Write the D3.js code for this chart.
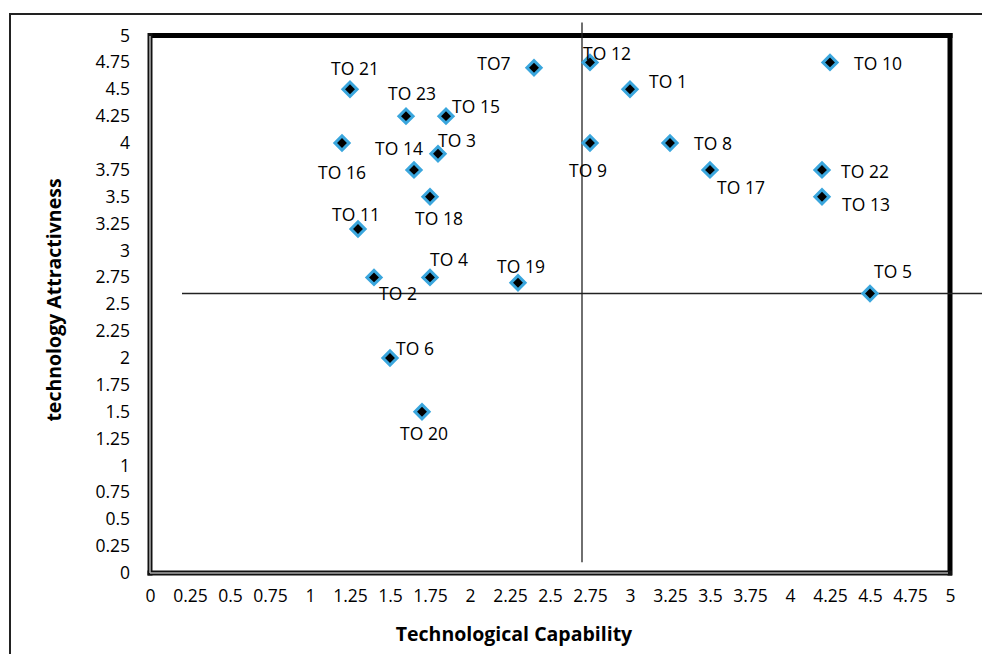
<!DOCTYPE html>
<html><head><meta charset="utf-8">
<script src="https://cdn.jsdelivr.net/npm/d3@7"></script>
<style>body{margin:0;background:#fff}svg{display:block}</style>
</head><body>
<svg id="c" width="982" height="654"></svg>
<script>
// ---- data ----
const names = ["TO 1","TO 2","TO 3","TO 4","TO 5","TO 6","TO7","TO 8","TO 9","TO 10","TO 11","TO 12","TO 13","TO 14","TO 15","TO 16","TO 17","TO 18","TO 19","TO 20","TO 21","TO 22","TO 23"];
const capability = [3.0,1.4,1.8,1.75,4.5,1.5,2.4,3.25,2.75,4.25,1.3,2.75,4.2,1.65,1.85,1.2,3.5,1.75,2.3,1.7,1.25,4.2,1.6];
const attractiveness = [4.5,2.75,3.9,2.75,2.6,2.0,4.7,4.0,4.0,4.75,3.2,4.75,3.5,3.75,4.25,4.0,3.75,3.5,2.7,1.5,4.5,3.75,4.25];
const xTicks = [0,0.25,0.5,0.75,1,1.25,1.5,1.75,2,2.25,2.5,2.75,3,3.25,3.5,3.75,4,4.25,4.5,4.75,5];
const yTicks = [0,0.25,0.5,0.75,1,1.25,1.5,1.75,2,2.25,2.5,2.75,3,3.25,3.5,3.75,4,4.25,4.5,4.75,5];
const hLineX = [0.2,5.25], hLineY = 2.6;   // horizontal divider
const vLineY = [0.1,5.12], vLineX = 2.7;   // vertical divider
// label offsets (px) relative to marker, index-aligned with names
const labelDx = [38,24,19,19,23,25,-40,43,-2,48,-2,17,44,-15,30,0,31,9,3,2,5,43,6];
const labelDy = [-8,16,-14,-18,-23,-10,-5,0,27,1,-15,-9,7,-22,-10,29,17,21,-17,21,-21,1,-23];

const svg = d3.select("#c");
const x = d3.scaleLinear().domain([0,5]).range([150,950]);
const y = d3.scaleLinear().domain([0,5]).range([573,35.5]);
const font = "'Open Sans', Lato, sans-serif";

// outer frame
svg.append("rect").attr("x",10).attr("y",14).attr("width",1000).attr("height",700)
  .attr("fill","none").attr("stroke","#222").attr("stroke-width",2);

// plot borders: top & right thick black, left & bottom double
svg.append("line").attr("x1",148).attr("x2",952.5).attr("y1",35.5).attr("y2",35.5).attr("stroke","#000").attr("stroke-width",5);
svg.append("line").attr("x1",950).attr("x2",950).attr("y1",33).attr("y2",575.5).attr("stroke","#000").attr("stroke-width",5);
svg.append("line").attr("x1",150).attr("x2",150).attr("y1",33).attr("y2",575.5).attr("stroke","#111").attr("stroke-width",5);
svg.append("line").attr("x1",147.5).attr("x2",952).attr("y1",573).attr("y2",573).attr("stroke","#111").attr("stroke-width",5);
svg.append("line").attr("x1",150).attr("x2",150).attr("y1",36).attr("y2",573).attr("stroke","#aaa").attr("stroke-width",1.6);
svg.append("line").attr("x1",150).attr("x2",948).attr("y1",573).attr("y2",573).attr("stroke","#aaa").attr("stroke-width",1.6);

// axes (labels only)
const xAxis = d3.axisBottom(x).tickValues(xTicks).tickSize(0).tickPadding(0).tickFormat(d=>String(d));
const gx = svg.append("g").attr("transform","translate(0,590)").call(xAxis);
gx.select(".domain").remove();
gx.selectAll("text").attr("font-family",font).attr("font-size",17.5).attr("fill","#000");

const yAxis = d3.axisLeft(y).tickValues(yTicks).tickSize(0).tickPadding(0).tickFormat(d=>String(d));
const gy = svg.append("g").attr("transform","translate(130,0)").call(yAxis);
gy.select(".domain").remove();
gy.selectAll("text").attr("font-family",font).attr("font-size",17.5).attr("fill","#000");

// axis titles
svg.append("text").attr("x",514).attr("y",641).attr("text-anchor","middle")
  .attr("font-family",font).attr("font-weight","bold").attr("font-size",19.5).attr("fill","#000")
  .text("Technological Capability");
svg.append("text").attr("transform","translate(61,300) rotate(-90)").attr("text-anchor","middle")
  .attr("font-family",font).attr("font-weight","bold").attr("font-size",19.5).attr("fill","#000")
  .text("technology Attractivness");

// divider lines
svg.append("line").attr("x1",x(hLineX[0])).attr("x2",x(hLineX[1])).attr("y1",y(hLineY)).attr("y2",y(hLineY))
  .attr("stroke","#222").attr("stroke-width",1.3);
svg.append("line").attr("x1",x(vLineX)).attr("x2",x(vLineX)).attr("y1",y(vLineY[0])).attr("y2",y(vLineY[1]))
  .attr("stroke","#222").attr("stroke-width",1.3);

// points
const data = names.map((n,i)=>({n, cx:capability[i], cy:attractiveness[i], dx:labelDx[i], dy:labelDy[i]}));
const sym = d3.symbol().type(d3.symbolSquare).size(100);
svg.append("g").selectAll("path").data(data).join("path")
  .attr("d",sym)
  .attr("transform",d=>`translate(${x(d.cx)},${y(d.cy)}) rotate(45)`)
  .attr("fill","#000").attr("stroke","#3aa6dd").attr("stroke-width",3);

svg.append("g").selectAll("text").data(data).join("text")
  .attr("x",d=>x(d.cx)+d.dx).attr("y",d=>y(d.cy)+d.dy)
  .attr("text-anchor","middle").attr("dominant-baseline","central")
  .attr("font-family",font).attr("font-size",17.5).attr("fill","#000")
  .text(d=>d.n);
</script>
</body></html>
